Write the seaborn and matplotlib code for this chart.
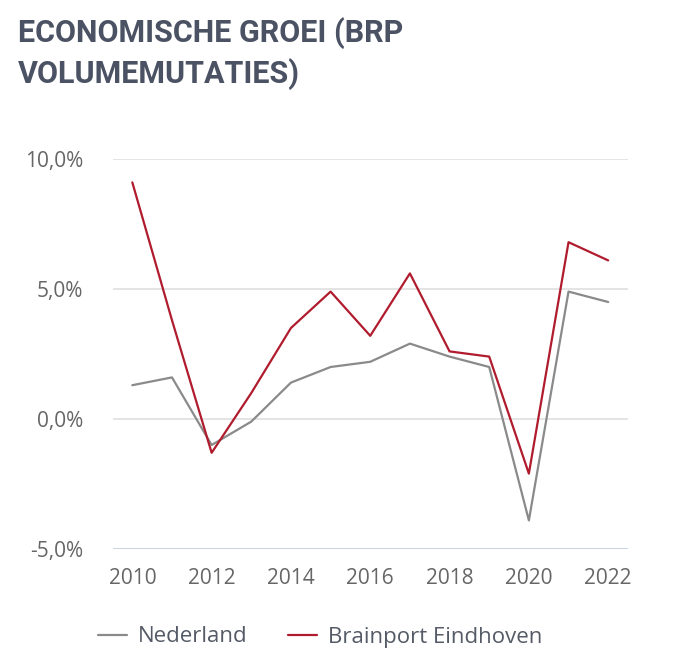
import pandas as pd
import matplotlib
matplotlib.use('Agg')
import matplotlib.pyplot as plt
import seaborn as sns

# BRP volume changes (%)
years = list(range(2010, 2023))
nederland = [1.3, 1.6, -1.0, -0.1, 1.4, 2.0, 2.2, 2.9, 2.4, 2.0, -3.9, 4.9, 4.5]
brainport = [9.1, 3.8, -1.3, 1.0, 3.5, 4.9, 3.2, 5.6, 2.6, 2.4, -2.1, 6.8, 6.1]
series_names = ['Nederland', 'Brainport Eindhoven']
series_colors = ['#8a8a8a', '#b01c2e']
y_ticks = [-5, 0, 5, 10]
x_ticks = [2010, 2012, 2014, 2016, 2018, 2020, 2022]
title_lines = ['ECONOMISCHE GROEI (BRP', 'VOLUMEMUTATIES)']

df = pd.concat([
    pd.DataFrame({'jaar': years, 'groei': nederland, 'regio': series_names[0]}),
    pd.DataFrame({'jaar': years, 'groei': brainport, 'regio': series_names[1]}),
])

sns.set_theme(style='white')
plt.rcParams['font.family'] = ['Open Sans', 'DejaVu Sans']

fig = plt.figure(figsize=(6.85, 6.67), dpi=100)
ax = fig.add_axes([112.5 / 685, 118 / 667, 515.5 / 685, 390 / 667])

sns.lineplot(data=df, x='jaar', y='groei', hue='regio', palette=series_colors,
             hue_order=series_names, linewidth=1.6, ax=ax, legend=False)

ax.set_xlim(2009.5, 2022.5)
ax.set_ylim(-5, 10)
ax.set_yticks(y_ticks)
ax.set_yticklabels([f'{v:.1f}%'.replace('.', ',') for v in y_ticks])
ax.set_xticks(x_ticks)
ax.set_xticklabels([str(y) for y in x_ticks])
ax.tick_params(axis='both', length=0, labelsize=15, labelcolor='#666666')
ax.tick_params(axis='y', pad=21)
ax.tick_params(axis='x', pad=14)

for v in y_ticks:
    ax.axhline(v, color='#c9d4e3' if v == -5 else '#e4e4e4', linewidth=1.4, zorder=0)
for side in ax.spines.values():
    side.set_visible(False)
ax.set_xlabel('')
ax.set_ylabel('')
ax.grid(False)

for i, line in enumerate(title_lines):
    fig.text(18 / 685, 1 - (42 + 41 * i) / 667, line,
             fontsize=22, fontweight='bold', color='#4b5263',
             family=['Roboto', 'DejaVu Sans'], va='baseline', ha='left')

handles = [plt.Line2D([], [], color=c, linewidth=1.6) for c in series_colors]
fig.legend(handles, series_names, loc='center left', bbox_to_anchor=(98 / 685, 30 / 667),
           ncol=2, frameon=False, fontsize=16, handlelength=1.3, handletextpad=0.5,
           columnspacing=1.8, borderpad=0, borderaxespad=0, labelcolor='#555b66')

fig.savefig('out.png', dpi=100)
